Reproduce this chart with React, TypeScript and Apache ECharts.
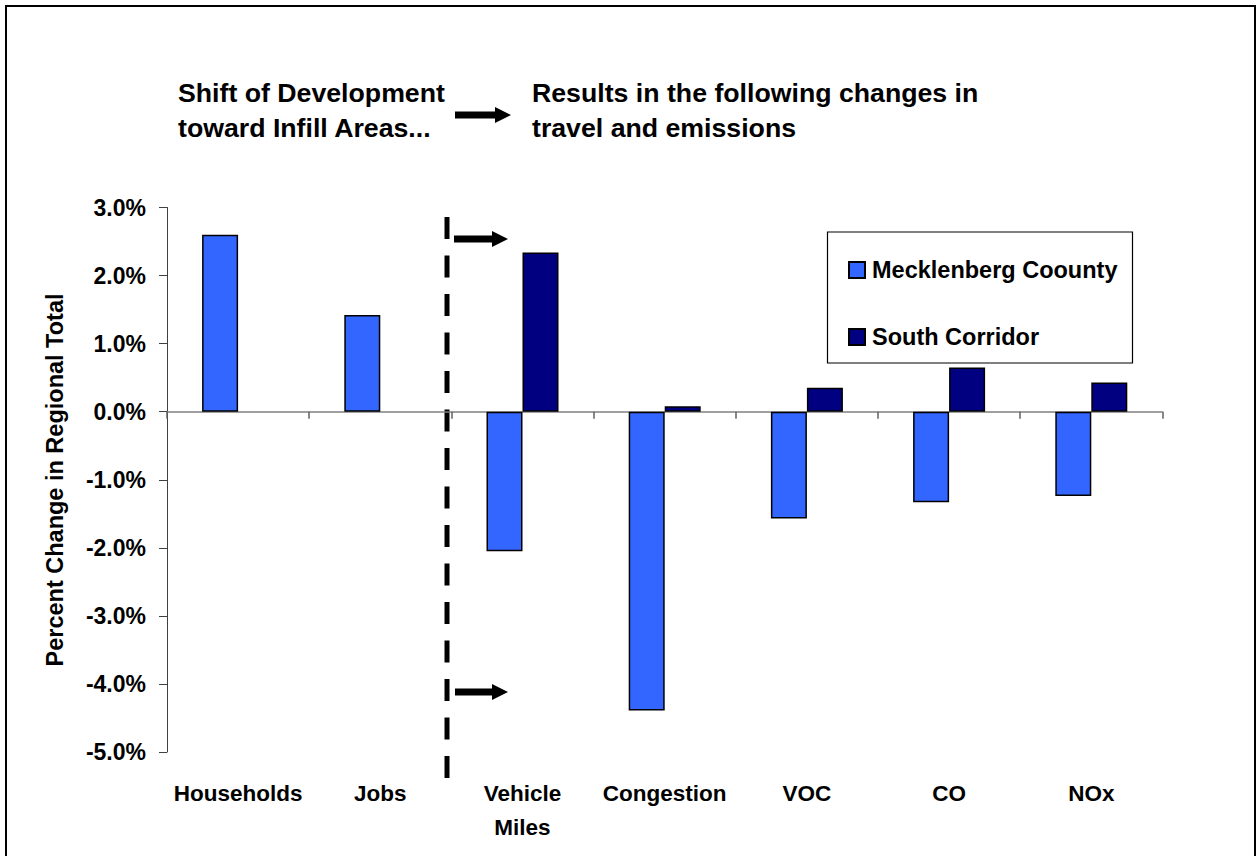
import React, { useEffect, useRef } from 'react';
import * as echarts from 'echarts';

const categories = ['Households', 'Jobs', 'Vehicle\nMiles', 'Congestion', 'VOC', 'CO', 'NOx'];
const mecklenberg = [2.6, 1.42, -2.05, -4.39, -1.57, -1.33, -1.24];
const southCorridor: (number | null)[] = [null, null, 2.34, 0.08, 0.35, 0.65, 0.43];
const seriesNames = ['Mecklenberg Coounty', 'South Corridor'];
const yMin = -5;
const yMax = 3;
const yStep = 1;
const titleLeft = ['Shift of Development', 'toward Infill Areas...'];
const titleRight = ['Results in the following changes in', 'travel and emissions'];
const yAxisTitle = 'Percent Change in Regional Total';

const FONT = '"Liberation Sans", Arial, Helvetica, sans-serif';
const BLUE = '#3366FF';
const NAVY = '#000080';

function arrow(x0: number, y: number, len: number) {
  const hl = 16, hh = 8, sh = 3.5;
  return {
    type: 'polygon',
    silent: true,
    shape: {
      points: [
        [x0, y - sh], [x0 + len - hl, y - sh], [x0 + len - hl, y - hh], [x0 + len, y],
        [x0 + len - hl, y + hh], [x0 + len - hl, y + sh], [x0, y + sh],
      ],
    },
    style: { fill: '#000' },
  };
}

function titleText(text: string, x: number, y: number) {
  return {
    type: 'text',
    x,
    y,
    style: { text, fill: '#000', font: `bold 26.7px ${FONT}`, align: 'left', verticalAlign: 'middle' },
  };
}

export default function App() {
  const ref = useRef<HTMLDivElement>(null);
  useEffect(() => {
    document.body.style.margin = '0';
    if (!ref.current) return;
    const chart = echarts.init(ref.current, undefined, { renderer: 'svg' });
    chart.setOption({
      animation: false,
      backgroundColor: '#fff',
      grid: { left: 167, right: 93.6, top: 207.5, bottom: 104, containLabel: false, outerBoundsMode: 'none' },
      legend: {
        orient: 'vertical',
        left: 843,
        top: 253,
        itemWidth: 16,
        itemHeight: 16,
        itemGap: 43,
        icon: 'rect',
        data: seriesNames,
        textStyle: { fontFamily: FONT, fontWeight: 'bold', fontSize: 23.5, color: '#000', padding: [0, 0, 0, 2] },
      },
      xAxis: [
        {
          type: 'category',
          data: categories,
          position: 'bottom',
          axisLine: { show: true, onZero: true, lineStyle: { color: '#808080', width: 1.5 } },
          axisTick: { show: true, length: 7, lineStyle: { color: '#606060', width: 1.5 } },
          axisLabel: { show: false },
          splitLine: { show: false },
        },
        {
          type: 'category',
          data: categories,
          position: 'bottom',
          axisLine: { show: false, onZero: false },
          axisTick: { show: false },
          axisLabel: {
            show: true,
            margin: 24,
            interval: 0,
            color: '#000',
            fontFamily: FONT,
            fontWeight: 'bold',
            fontSize: 22.5,
            lineHeight: 34,
          },
          splitLine: { show: false },
        },
      ],
      yAxis: {
        type: 'value',
        min: yMin,
        max: yMax,
        interval: yStep,
        axisLine: { show: true, lineStyle: { color: '#404040', width: 1 } },
        axisTick: { show: true, length: 8, lineStyle: { color: '#404040', width: 1 } },
        splitLine: { show: false },
        axisLabel: {
          margin: 21,
          color: '#000',
          fontFamily: FONT,
          fontWeight: 'bold',
          fontSize: 23,
          formatter: (v: number) => v.toFixed(1) + '%',
        },
      },
      series: [
        {
          name: seriesNames[0],
          type: 'bar',
          xAxisIndex: 0,
          data: mecklenberg,
          barWidth: 36,
          barGap: '0%',
          itemStyle: { color: BLUE, borderColor: '#000', borderWidth: 1.5 },
        },
        {
          name: seriesNames[1],
          type: 'bar',
          xAxisIndex: 0,
          data: southCorridor,
          barWidth: 36,
          barGap: '0%',
          itemStyle: { color: NAVY, borderColor: '#000', borderWidth: 1.5 },
        },
      ],
      graphic: [
        {
          type: 'rect',
          z: -1,
          silent: true,
          shape: { x: 6, y: 6, width: 1249, height: 900 },
          style: { fill: 'none', stroke: '#000', lineWidth: 2 },
        },
        {
          type: 'rect',
          z: 0,
          silent: true,
          shape: { x: 827.5, y: 232, width: 305, height: 131 },
          style: { fill: '#fff', stroke: '#000', lineWidth: 1.2 },
        },
        titleText(titleLeft[0], 178, 93),
        titleText(titleLeft[1], 178, 128),
        titleText(titleRight[0], 532, 93),
        titleText(titleRight[1], 532, 128),
        arrow(455, 115, 56),
        arrow(454, 239, 54),
        arrow(455, 692, 53),
        {
          type: 'line',
          silent: true,
          shape: { x1: 447, y1: 217, x2: 447, y2: 780 },
          style: { stroke: '#000', lineWidth: 5, lineDash: [22, 16.5] },
        },
        {
          type: 'text',
          x: 55,
          y: 480,
          rotation: Math.PI / 2,
          style: {
            text: yAxisTitle,
            fill: '#000',
            font: `bold 23.5px ${FONT}`,
            align: 'center',
            verticalAlign: 'middle',
          },
        },
      ],
    });
    return () => chart.dispose();
  }, []);
  return <div ref={ref} style={{ width: 1256, height: 856 }} />;
}
